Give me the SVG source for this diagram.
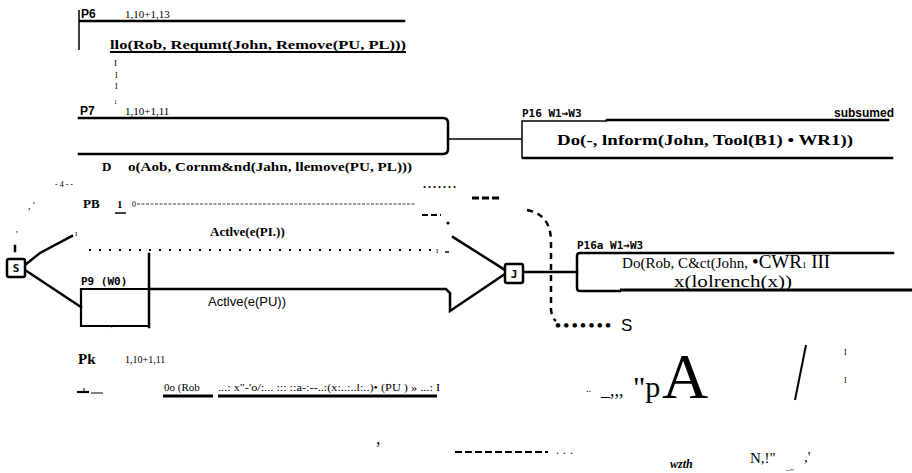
<svg xmlns="http://www.w3.org/2000/svg" width="912" height="473" viewBox="0 0 912 473">
<style>
.ln{fill:none;stroke:#000;stroke-width:2.5;stroke-linecap:square}
.th{fill:none;stroke:#000;stroke-width:1.5}
.ps{font-family:"Liberation Sans",Arial,sans-serif;font-weight:bold;font-size:12px}
.ss{font-family:"Liberation Sans",Arial,sans-serif;font-size:13px}
.mo{font-family:"DejaVu Sans Mono","Liberation Mono",monospace;font-weight:bold;font-size:11px}
.sr{font-family:"Liberation Serif","Times New Roman",serif;font-size:11px}
.sb{font-family:"Liberation Serif","Times New Roman",serif;font-weight:bold;font-size:13px}
.box{fill:#fff;stroke:#000;stroke-width:2.5}
</style>
<rect width="912" height="473" fill="#fff"/>
<g id="connectors">
  <path class="th" d="M448,139 H522"/>
  <path class="ln" d="M25,265 L40,253 L72,236"/>
  <path class="ln" d="M25,270 L81,307"/>
  <path class="ln" d="M149,289 H446 L450,293 V311 L505,274"/>
  <path class="ln" d="M453,237 L505,270"/>
  <path class="ln" d="M523,272 H577"/>
  <path fill="none" stroke="#000" stroke-width="2.5" stroke-dasharray="6,5" d="M527,210 Q550,214 551,240 V310 Q552,318 556,321"/>
  <path fill="none" stroke="#000" stroke-width="2" stroke-dasharray="2,8" d="M89,250 H436"/>
  <path fill="none" stroke="#000" stroke-width="0.8" stroke-dasharray="3,1.5" d="M137,204 H415"/>
</g>
<g id="node-P6">
  <path class="th" d="M79,10 V50"/>
  <path class="ln" d="M80,21 H404"/>
  <text class="ps" x="81" y="18">P6</text>
  <text class="sr" x="125" y="18">1,10+1,13</text>
  <text class="sb" x="110" y="49" textLength="296" lengthAdjust="spacingAndGlyphs">llo(Rob,  Requmt(John,  Remove(PU,  PL)))</text>
  <path fill="none" stroke="#000" stroke-width="2" d="M110,52 H406"/>
  <text class="sr" x="114" y="66" style="font-size:9px">I</text>
  <text class="sr" x="115" y="78" style="font-size:8px">I</text>
  <text class="sr" x="115" y="89" style="font-size:8px">I</text>
  <text class="sr" x="114" y="104" style="font-size:6px">1</text>
</g>
<g id="node-P7">
  <text class="ps" x="80" y="115">P7</text>
  <text class="sr" x="125" y="115">1,10+1,11</text>
  <path class="ln" d="M79,118 H443 Q448,118 448,123 V149 Q448,154 443,154 H79"/>
  <text class="sb" x="102" y="171">D</text>
  <text class="sb" x="128" y="171" textLength="284" lengthAdjust="spacingAndGlyphs">o(Aob, Cornm&amp;nd(Jahn, llemove(PU,  PL)))</text>
</g>
<g id="node-P16">
  <text class="mo" x="522" y="117">P16 W1→W3</text>
  <text class="ps" x="834" y="117">subsumed</text>
  <path class="th" d="M607,121 H522 V158"/>
  <path class="ln" d="M607,120 H888"/>
  <path class="ln" d="M523,158 H892"/>
  <text class="sb" x="557" y="145" style="font-size:14px" textLength="296" lengthAdjust="spacingAndGlyphs">Do(-, lnform(John, Tool(B1) • WR1))</text>
</g>
<g id="marks-mid">
  <text class="sb" x="423" y="188" style="font-size:12px;letter-spacing:2px">.......</text>
  <path fill="none" stroke="#000" stroke-width="3" stroke-dasharray="7,3" d="M472,198 H501"/>
  <path fill="none" stroke="#000" stroke-width="2" stroke-dasharray="6,3" d="M422,215 H441"/>
  <circle cx="448" cy="223" r="1.6"/>
  <text class="sr" x="55" y="187" style="font-size:8px">-  4  -  -</text>
  <text class="sr" x="28" y="209" style="font-size:10px">,   '</text>
  <text class="sr" x="436" y="253" style="font-size:7px">I</text>
  <path class="th" d="M445,252 H449"/>
</g>
<g id="node-PB">
  <text class="sb" x="83" y="208">PB</text>
  <text class="sb" x="117" y="208" style="font-size:11px">1</text>
  <path class="th" d="M115,213 H126"/>
  <text class="sr" x="132" y="207" style="font-size:8px">0</text>
  <text class="sb" x="210" y="236">Actlve(e(PI.))</text>
</g>
<g id="node-S">
  <path class="ln" d="M15,246 V251"/>
  <text class="sr" x="16" y="238" style="font-size:10px">'</text>
  <rect class="box" x="7" y="259" width="18" height="18" rx="2"/>
  <text class="mo" x="16" y="272" text-anchor="middle">S</text>
  <text class="sr" x="75" y="236" style="font-size:7px">I</text>
</g>
<g id="node-P9">
  <text class="mo" x="81" y="285">P9  (W0)</text>
  <path class="ln" d="M149,254 V327"/>
  <path fill="none" stroke="#000" stroke-width="2.2" d="M149,289 H81 V326 H149"/>
  <text class="ss" x="208" y="306">Actlve(e(PU))</text>
  <text class="sr" x="111" y="331" style="font-size:7px">'</text>
</g>
<g id="node-J">
  <rect class="box" x="505" y="264" width="18" height="19" rx="2"/>
  <text class="mo" x="514" y="278" text-anchor="middle">J</text>
  <text class="sb" x="555" y="331" style="font-size:17px;letter-spacing:2.4px">•••••••</text>
  <text class="ss" x="621" y="331" style="font-size:17px">S</text>
</g>
<g id="node-P16a">
  <text class="mo" x="577" y="249">P16a W1→W3</text>
  <path class="ln" d="M893,253 H580 Q577,253 577,256 V288 Q577,291 580,291 H620"/>
  <path fill="none" stroke="#000" stroke-width="3" d="M620,290 H912"/>
  <text class="sr" x="622" y="268" style="font-size:14px" textLength="126" lengthAdjust="spacingAndGlyphs">Do(Rob, C&amp;ct(John,</text>
  <text class="sr" x="752" y="268" style="font-size:19px">•CWR<tspan style="font-size:9px">1</tspan><tspan style="font-size:19px"> III</tspan></text>
  <text class="sr" x="674" y="287" style="font-size:16px" textLength="118" lengthAdjust="spacingAndGlyphs">x(lolrench(x))</text>
</g>
<g id="node-Pk">
  <text class="sb" x="78" y="364" style="font-size:15px">Pk</text>
  <text class="sr" x="125" y="363" style="font-size:10px">1,10+1,11</text>
  <path fill="none" stroke="#000" stroke-width="2.2" d="M77,392 H89"/>
  <path fill="none" stroke="#000" stroke-width="1" d="M84,388 V392 M91,393 H103"/>
  <text class="sr" x="164" y="391" style="font-size:11px">0o  (Rob</text>
  <path fill="none" stroke="#000" stroke-width="3" d="M163,396 H213"/>
  <text class="sr" x="218" y="391" style="font-size:10px" textLength="222" lengthAdjust="spacingAndGlyphs">...: x"-'o/:... ::: ::a-:--..:(x:..:..l:..)• (PU ) » ...: I</text>
  <path fill="none" stroke="#000" stroke-width="3" d="M218,396 H437"/>
</g>
<g id="marks-bottom">
  <text class="sr" x="586" y="392" style="font-size:10px">..</text>
  <text class="sr" x="601" y="396" style="font-size:18px">_,,,</text>
  <text class="sr" x="633" y="397" style="font-size:30px">"p</text>
  <text class="sr" x="662" y="398" style="font-size:64px">A</text>
  <path fill="none" stroke="#000" stroke-width="2" d="M806,345 L795,400"/>
  <text class="sr" x="844" y="355" style="font-size:8px">I</text>
  <text class="sr" x="844" y="383" style="font-size:8px">I</text>
  <text class="sr" x="376" y="444" style="font-size:18px">,</text>
  <path fill="none" stroke="#000" stroke-width="2" stroke-dasharray="7,3" d="M455,452 H548"/>
  <text class="sr" x="556" y="454" style="font-size:12px;letter-spacing:4px">...</text>
  <text class="sr" x="670" y="468" style="font-size:12px;font-weight:bold;font-style:italic">wzth</text>
  <text class="sr" x="750" y="463" style="font-size:15px">N,!"</text>
  <text class="sr" x="786" y="470" style="font-size:8px">_,,</text>
  <text class="sr" x="804" y="462" style="font-size:15px">,'</text>
</g>
</svg>
